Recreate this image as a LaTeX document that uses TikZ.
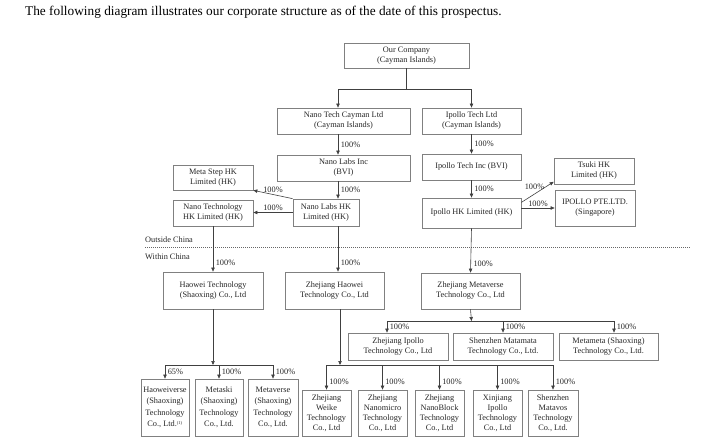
\documentclass[tikz,border=0pt]{standalone}
\usepackage{fontspec}
\setmainfont{Liberation Serif}
\usetikzlibrary{arrows.meta}

\begin{document}
\begin{tikzpicture}[x=1pt, y=-1pt,
  every node/.style={font=\fontsize{8.3}{10}\selectfont, text=black!85},
  box/.style={draw=black!50, line width=0.7pt, fill=white, align=center, inner sep=1pt},
  tallbox/.style={box, font=\fontsize{8.3}{11.5}\selectfont},
  link/.style={draw=black!75, line width=0.6pt},
  arr/.style={link, -{Triangle[length=4pt,width=3.4pt]}},
  pct/.style={right=1.5pt, inner sep=1pt}]
  \useasboundingbox (0,0) rectangle (711,444);

  \node[anchor=base west, inner sep=0, text=black, font=\fontsize{13.3}{15}\selectfont] (title) at (25,16)
    {The following diagram illustrates our corporate structure as of the date of this prospectus.};

  % outside china
  \node[box, minimum width=125pt, minimum height=25pt] (ourco) at (406.5,55.5) {Our Company\\(Cayman Islands)};
  \node[box, minimum width=133pt, minimum height=26pt] (nanotech) at (343.5,121) {Nano Tech Cayman Ltd\\(Cayman Islands)};
  \node[box, minimum width=99pt, minimum height=26pt] (ipollotech) at (471.5,121) {Ipollo Tech Ltd\\(Cayman Islands)};
  \node[box, minimum width=133pt, minimum height=26pt] (nanolabsinc) at (343.5,168) {Nano Labs Inc\\(BVI)};
  \node[box, minimum width=99pt, minimum height=26pt] (ipolloinc) at (471.5,167) {Ipollo Tech Inc (BVI)};
  \node[box, minimum width=66pt, minimum height=27pt] (nanolabshk) at (326,212.5) {Nano Labs HK\\Limited (HK)};
  \node[box, minimum width=80pt, minimum height=26pt] (nanotechhk) at (213,213) {Nano Technology\\HK Limited (HK)};
  \node[box, minimum width=80pt, minimum height=25pt] (metastep) at (213,177.5) {Meta Step HK\\Limited (HK)};
  \node[box, minimum width=99pt, minimum height=30pt] (ipollohk) at (471.5,213) {Ipollo HK Limited (HK)};
  \node[box, minimum width=80pt, minimum height=26pt] (tsuki) at (594,171) {Tsuki HK\\Limited (HK)};
  \node[box, minimum width=80pt, minimum height=36pt] (ipollopte) at (595,208) {IPOLLO PTE.LTD.\\(Singapore)};

  % border line
  \node[anchor=west, inner sep=0] (outside) at (145,240) {Outside China};
  \node[anchor=west, inner sep=0] (within) at (145,257) {Within China};
  \draw[black!60, line width=0.5pt, dash pattern=on 1.2pt off 0.8pt] (145,247) -- (690,247);

  % within china
  \node[box, minimum width=100pt, minimum height=37pt] (haoweitech) at (213,290.5) {Haowei Technology\\(Shaoxing) Co., Ltd};
  \node[box, minimum width=99pt, minimum height=37pt] (zjhaowei) at (334.5,290.5) {Zhejiang Haowei\\Technology Co., Ltd};
  \node[box, minimum width=99pt, minimum height=36pt] (zjmetaverse) at (470.5,291) {Zhejiang Metaverse\\Technology Co., Ltd};
  \node[box, minimum width=100pt, minimum height=27pt] (zjipollo) at (398,346.5) {Zhejiang Ipollo\\Technology Co., Ltd};
  \node[box, minimum width=100pt, minimum height=27pt] (szmatamata) at (503,346.5) {Shenzhen Matamata\\Technology Co., Ltd.};
  \node[box, minimum width=99pt, minimum height=27pt] (metameta) at (608.5,346.5) {Metameta (Shaoxing)\\Technology Co., Ltd.};

  \node[tallbox, minimum width=48pt, minimum height=57pt] (haoweiverse) at (165,407.5)
    {Haoweiverse\\(Shaoxing)\\Technology\\Co., Ltd.\textsuperscript{\fontsize{4.5}{5}\selectfont(1)}};
  \node[tallbox, minimum width=48pt, minimum height=57pt] (metaski) at (219,407.5) {Metaski\\(Shaoxing)\\Technology\\Co., Ltd.};
  \node[tallbox, minimum width=50pt, minimum height=57pt] (metaversesx) at (273,407.5) {Metaverse\\(Shaoxing)\\Technology\\Co., Ltd.};

  \node[box, minimum width=49pt, minimum height=46pt] (weike) at (326.5,413) {Zhejiang\\Weike\\Technology\\Co., Ltd};
  \node[box, minimum width=49pt, minimum height=46pt] (nanomicro) at (382.5,413) {Zhejiang\\Nanomicro\\Technology\\Co., Ltd};
  \node[box, minimum width=49pt, minimum height=46pt] (nanoblock) at (439.5,413) {Zhejiang\\NanoBlock\\Technology\\Co., Ltd};
  \node[box, minimum width=49pt, minimum height=46pt] (xinjiang) at (497.5,413) {Xinjiang\\Ipollo\\Technology\\Co., Ltd};
  \node[box, minimum width=50pt, minimum height=46pt] (matavos) at (553,413) {Shenzhen\\Matavos\\Technology\\Co., Ltd.};

  % top of the tree
  \coordinate (topL) at (338,89);
  \coordinate (topR) at (471.5,89);
  \draw[link] (ourco.south) -- (ourco.south |- topL);
  \draw[link] (topL) -- (topR);
  \draw[arr] (topL) -- (topL |- nanotech.north);
  \draw[arr] (topR) -- (ipollotech.north);

  % nano side
  \draw[arr] (topL |- nanotech.south) -- (topL |- nanolabsinc.north) node[pct, midway] {100\%};
  \draw[arr] (topL |- nanolabsinc.south) -- (topL |- nanolabshk.north) node[pct, midway] {100\%};
  \draw[arr] (nanolabshk.north west) -- (metastep.south east) node[midway, above, inner sep=1.5pt] {100\%};
  \draw[arr] (nanolabshk.west) -- (nanolabshk.west -| nanotechhk.east) node[midway, above, inner sep=1.5pt] {100\%};

  % ipollo side
  \draw[arr] (ipollotech.south) -- (ipolloinc.north) node[pct, midway] {100\%};
  \draw[arr] (ipolloinc.south) -- (ipollohk.north) node[pct, midway] {100\%};
  \draw[arr] (ipollohk.12) -- (tsuki.195) node[midway, above, xshift=-3pt, inner sep=2pt] {100\%};
  \draw[arr] (ipollopte.west -| ipollohk.east) -- (ipollopte.west) node[midway, above, inner sep=1.5pt] {100\%};

  % into china
  \draw[arr] (nanotechhk.south) -- (haoweitech.north) node[pct, pos=0.8] {100\%};
  \draw[arr] (topL |- nanolabshk.south) -- (topL |- zjhaowei.north) node[pct, pos=0.8] {100\%};
  \draw[arr] (ipollohk.south) -- (zjmetaverse.north) node[pct, pos=0.8] {100\%};

  % haowei technology group
  \coordinate (hwbus) at (213,365);
  \draw[arr] (haoweitech.south) -- (hwbus);
  \draw[link] (haoweiverse.north |- hwbus) -- (metaversesx.north |- hwbus);
  \foreach \b/\p in {haoweiverse/65, metaski/100, metaversesx/100}
    \draw[arr] (\b.north |- hwbus) -- (\b.north) node[pct, midway] {\p\%};

  % zhejiang haowei group
  \coordinate (zhbus) at (340,365);
  \draw[arr] (zhbus |- zjhaowei.south) -- (zhbus);
  \draw[link] (weike.north |- zhbus) -- (matavos.north |- zhbus);
  \foreach \b in {weike, nanomicro, nanoblock, xinjiang, matavos}
    \draw[arr] (\b.north |- zhbus) -- (\b.north) node[pct, pos=0.7] {100\%};

  % zhejiang metaverse group
  \coordinate (mvbus) at (471.5,321);
  \coordinate (mvL) at (387,321);
  \coordinate (mvR) at (614,321);
  \draw[arr] (zjmetaverse.south) -- (mvbus);
  \draw[link] (mvL) -- (mvR);
  \draw[arr] (mvL) -- (mvL |- zjipollo.north) node[pct, midway] {100\%};
  \draw[arr] (szmatamata.north |- mvbus) -- (szmatamata.north) node[pct, midway] {100\%};
  \draw[arr] (mvR) -- (mvR |- metameta.north) node[pct, midway] {100\%};
\end{tikzpicture}
\end{document}
